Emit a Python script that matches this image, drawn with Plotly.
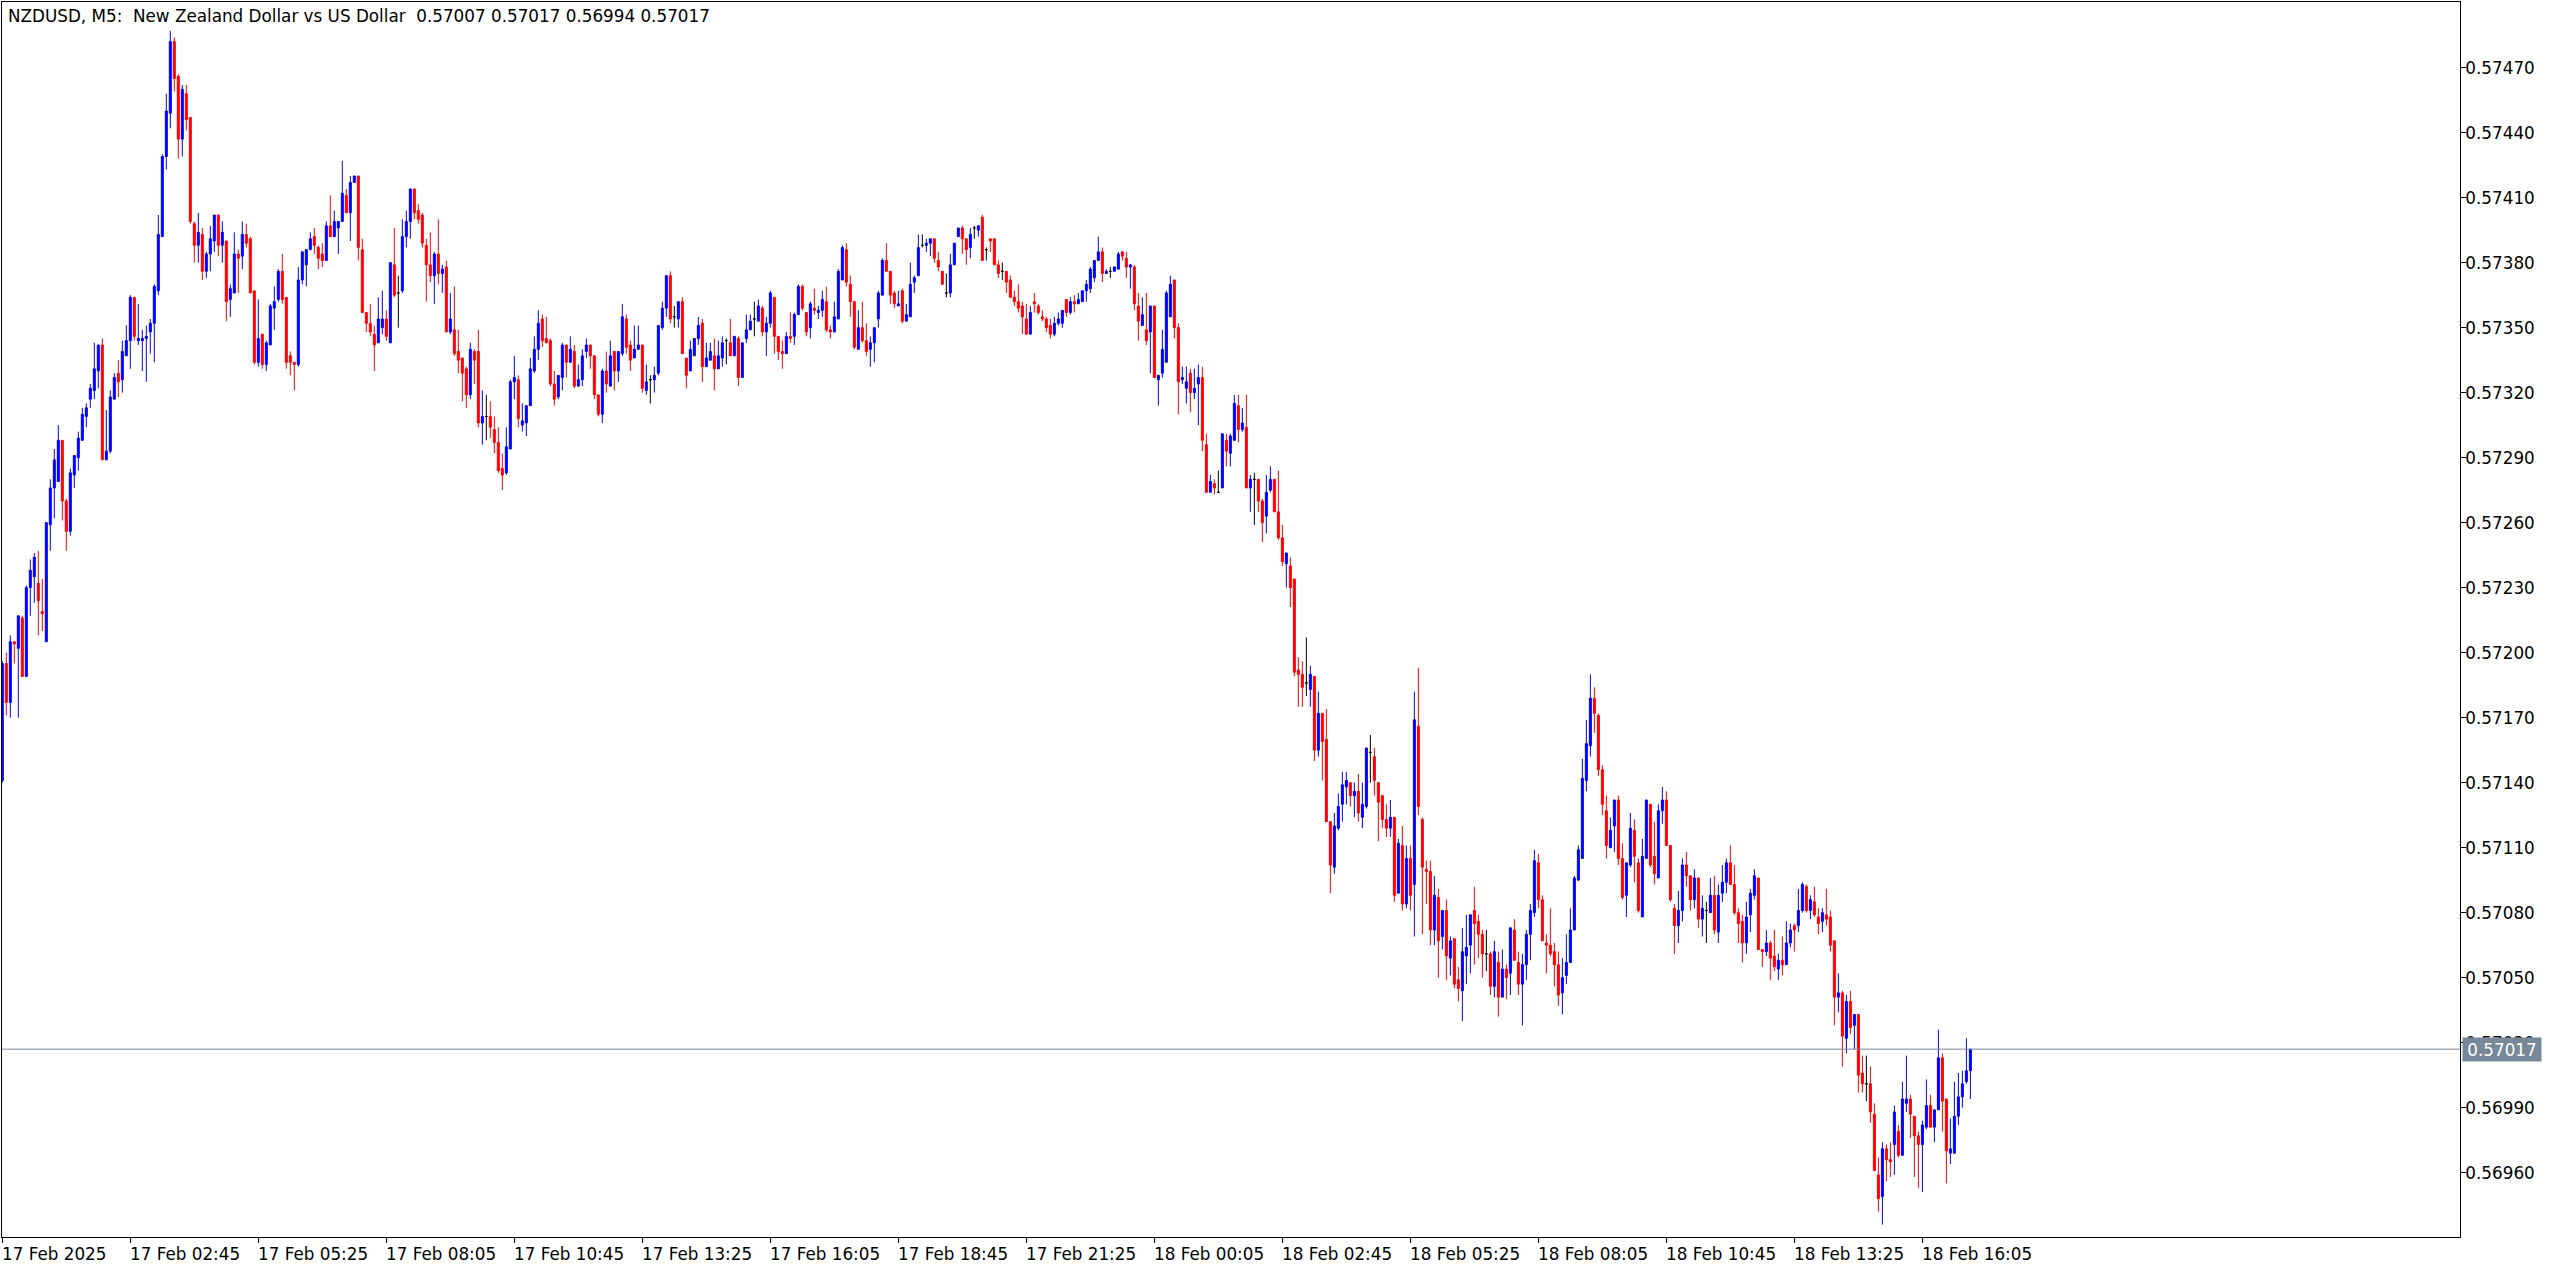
import plotly.graph_objects as go

# NZDUSD M5 candles, prices in points (1 point = 0.00001)
open_pts = [
57141,57195,57177,57205,57202,57216,57189,57230,57235,57232,
57219,57205,57259,57276,57279,57298,57270,57256,57282,57290,
57298,57309,57317,57321,57330,57342,57289,57293,57317,57329,
57326,57337,57344,57364,57344,57344,57345,57348,57352,57367,
57392,57429,57449,57482,57466,57437,57458,57447,57398,57388,
57393,57376,57384,57390,57402,57388,57390,57363,57366,57384,
57383,57393,57391,57367,57334,57347,57333,57342,57359,57363,
57376,57364,57337,57334,57333,57372,57379,57386,57392,57387,
57384,57381,57397,57392,57396,57399,57411,57403,57417,57420,
57386,57357,57352,57347,57343,57350,57354,57343,57379,57366,
57367,57392,57399,57414,57404,57402,57388,57379,57374,57384,
57375,57378,57348,57349,57339,57336,57331,57319,57339,57339,
57306,57309,57309,57303,57297,57285,57283,57294,57325,57326,
57305,57306,57314,57330,57340,57354,57345,57344,57324,57318,
57327,57342,57334,57339,57323,57326,57339,57342,57337,57319,
57310,57330,57323,57339,57330,57338,57354,57342,57336,57340,
57342,57321,57326,57326,57329,57350,57359,57374,57355,57354,
57362,57336,57330,57337,57345,57352,57332,57335,57337,57331,
57336,57344,57343,57337,57345,57327,57345,57349,57354,57353,
57359,57348,57352,57364,57346,57339,57338,57346,57346,57356,
57369,57357,57350,57359,57357,57358,57362,57349,57348,57354,
57372,57386,57370,57362,57340,57350,57344,57340,57343,57354,
57365,57381,57376,57366,57360,57367,57353,57355,57371,57374,
57388,57388,57389,57391,57381,57376,57366,57366,57379,57392,
57396,57391,57387,57396,57395,57401,57386,57391,57391,57379,
57376,57376,57372,57364,57362,57360,57354,57347,57362,57360,
57355,57354,57351,57347,57352,57352,57363,57357,57362,57361,
57362,57367,57368,57373,57381,57385,57375,57376,57376,57377,
57385,57382,57378,57378,57360,57351,57349,57348,57360,57326,
57329,57334,57355,57372,57350,57326,57322,57329,57320,57324,
57327,57296,57274,57278,57274,57276,57298,57292,57298,57314,
57303,57304,57276,57280,57280,57270,57263,57275,57280,57265,
57253,57241,57240,57234,57192,57190,57186,57183,57189,57155,
57172,57160,57122,57101,57119,57130,57138,57140,57134,57136,
57124,57129,57154,57152,57140,57134,57123,57119,57124,57089,
57111,57084,57105,57093,57166,57123,57100,57099,57072,57087,
57069,57081,57059,57068,57049,57044,57060,57065,57081,57076,
57070,57061,57061,57046,57057,57041,57054,57052,57072,57057,
57047,57056,57070,57080,57103,57086,57066,57065,57062,57056,
57043,57051,57057,57072,57095,57105,57141,57157,57179,57171,
57146,57127,57110,57120,57132,57105,57088,57102,57118,57103,
57078,57105,57130,57106,57096,57127,57132,57111,57082,57074,
57081,57102,57097,57086,57096,57077,57081,57080,57088,57071,
57089,57094,57103,57093,57080,57076,57066,57079,57088,57096,
57063,57062,57066,57060,57054,57058,57056,57066,57074,57074,
57081,57092,57081,57085,57078,57076,57079,57078,57067,57041,
57043,57022,57039,57028,57033,57006,57001,57001,56987,56959,
56949,56971,56966,56973,56979,56968,56992,56994,56986,56977,
56973,56981,56991,56981,56989,57013,56994,56969,56969,56986,
56995,57002,57007,
]
high_pts = [
57196,57200,57208,57205,57217,57217,57231,57243,57246,57247,
57234,57260,57280,57294,57305,57298,57271,57285,57291,57302,
57313,57315,57324,57343,57342,57345,57312,57321,57329,57335,
57344,57351,57365,57364,57361,57349,57351,57354,57370,57402,
57430,57458,57487,57484,57467,57462,57462,57447,57399,57403,
57396,57385,57397,57402,57402,57399,57390,57370,57394,57386,
57399,57398,57392,57367,57363,57347,57344,57361,57369,57377,
57384,57364,57339,57334,57378,57385,57386,57394,57396,57388,
57389,57399,57411,57404,57399,57427,57414,57420,57420,57420,
57391,57357,57361,57351,57364,57367,57358,57380,57396,57374,
57400,57404,57414,57414,57407,57403,57391,57394,57385,57400,
57379,57381,57366,57369,57349,57336,57332,57343,57340,57349,
57321,57319,57316,57309,57304,57292,57304,57326,57337,57328,
57315,57314,57336,57346,57358,57356,57355,57345,57330,57328,
57343,57342,57346,57342,57333,57340,57345,57342,57337,57319,
57331,57339,57344,57339,57339,57361,57356,57344,57351,57351,
57342,57333,57328,57332,57351,57362,57374,57376,57360,57362,
57364,57336,57344,57345,57355,57354,57343,57343,57345,57344,
57346,57345,57354,57346,57346,57343,57356,57356,57362,57363,
57360,57355,57367,57364,57346,57344,57348,57357,57357,57370,
57370,57357,57362,57368,57360,57367,57369,57351,57362,57377,
57388,57389,57374,57362,57358,57362,57352,57346,57350,57367,
57382,57389,57376,57367,57367,57368,57361,57380,57374,57393,
57393,57391,57391,57391,57385,57376,57375,57384,57389,57396,
57397,57391,57396,57397,57397,57402,57387,57391,57391,57381,
57380,57376,57374,57367,57370,57362,57361,57360,57366,57361,
57358,57355,57354,57355,57357,57358,57363,57364,57365,57366,
57367,57372,57378,57381,57392,57387,57377,57378,57378,57385,
57385,57385,57379,57379,57366,57364,57366,57360,57360,57328,
57349,57367,57374,57372,57352,57332,57332,57331,57331,57333,
57332,57301,57282,57280,57284,57301,57301,57301,57319,57319,
57313,57319,57282,57283,57280,57271,57282,57286,57280,57284,
57259,57246,57244,57234,57198,57196,57207,57194,57189,57182,
57172,57174,57122,57126,57135,57145,57145,57140,57140,57144,
57140,57156,57162,57156,57140,57134,57130,57132,57124,57114,
57120,57111,57111,57182,57193,57124,57104,57104,57097,57091,
57081,57086,57069,57068,57055,57073,57079,57079,57092,57079,
57072,57072,57062,57067,57062,57063,57056,57073,57077,57062,
57061,57072,57084,57109,57107,57088,57070,57082,57066,57062,
57059,57070,57082,57097,57111,57151,57169,57190,57184,57172,
57148,57134,57124,57132,57134,57112,57103,57126,57123,57105,
57114,57132,57130,57122,57130,57138,57136,57111,57084,57090,
57105,57108,57097,57100,57096,57088,57085,57096,57097,57093,
57102,57105,57111,57102,57082,57079,57085,57091,57100,57096,
57063,57072,57067,57072,57061,57069,57076,57075,57075,57091,
57094,57093,57088,57092,57082,57082,57091,57081,57067,57052,
57044,57042,57044,57033,57033,57014,57014,57009,56992,56967,
56974,56973,56974,56991,56982,57002,57014,56996,56986,56979,
56984,57003,56996,56989,57026,57015,56994,56985,57002,57006,
57007,57022,57017,
]
low_pts = [
57140,57171,57170,57195,57170,57189,57189,57217,57223,57208,
57210,57205,57247,57262,57279,57261,57247,57254,57276,57284,
57298,57304,57313,57317,57322,57289,57289,57292,57317,57318,
57320,57337,57331,57344,57342,57330,57325,57338,57334,57365,
57392,57423,57442,57459,57428,57429,57441,57398,57380,57380,
57372,57373,57376,57385,57383,57380,57353,57355,57366,57366,
57377,57387,57366,57333,57332,57331,57330,57342,57349,57362,
57361,57331,57328,57321,57332,57370,57369,57386,57384,57377,
57378,57381,57392,57392,57384,57399,57403,57390,57417,57381,
57357,57348,57346,57330,57343,57347,57344,57343,57364,57350,
57366,57387,57391,57400,57398,57387,57362,57371,57361,57370,
57366,57348,57347,57337,57329,57316,57313,57317,57324,57304,
57296,57298,57299,57292,57283,57275,57282,57294,57317,57304,
57302,57300,57314,57329,57335,57341,57343,57323,57314,57317,
57321,57327,57334,57322,57323,57323,57336,57331,57317,57309,
57306,57320,57323,57321,57325,57337,57338,57330,57336,57340,
57320,57319,57315,57320,57328,57349,57355,57352,57350,57350,
57338,57322,57330,57337,57342,57325,57332,57335,57321,57331,
57332,57333,57337,57337,57323,57327,57343,57349,57346,57353,
57346,57337,57350,57338,57335,57331,57338,57343,57342,57356,
57358,57346,57345,57356,57354,57355,57348,57345,57348,57354,
57372,57369,57355,57340,57340,57343,57337,57332,57334,57350,
57365,57376,57361,57359,57360,57352,57353,57355,57366,57374,
57387,57385,57383,57380,57376,57370,57364,57364,57379,57392,
57384,57379,57382,57391,57392,57381,57381,57385,57379,57373,
57372,57366,57364,57360,57357,57347,57347,57347,57357,57356,
57353,57348,57345,57346,57351,57350,57355,57356,57357,57361,
57362,57362,57366,57371,57381,57371,57375,57373,57376,57377,
57381,57373,57368,57358,57344,57351,57342,57329,57327,57314,
57327,57334,57355,57345,57310,57324,57315,57311,57317,57305,
57293,57274,57274,57273,57274,57276,57286,57286,57298,57297,
57302,57276,57265,57259,57265,57251,57255,57274,57265,57252,
57240,57230,57221,57189,57175,57175,57180,57175,57150,57152,
57141,57122,57089,57098,57118,57122,57130,57129,57124,57122,
57119,57128,57140,57134,57113,57119,57115,57115,57085,57089,
57081,57082,57081,57069,57125,57070,57084,57065,57065,57050,
57063,57049,57051,57045,57039,57030,57047,57052,57056,57059,
57050,57053,57042,57041,57032,57041,57040,57042,57058,57042,
57028,57049,57058,57078,57082,57067,57052,57060,57046,57037,
57033,57047,57057,57072,57095,57105,57136,57152,57163,57143,
57125,57105,57110,57108,57102,57086,57078,57101,57094,57080,
57078,57105,57101,57093,57096,57121,57111,57085,57061,57066,
57076,57092,57081,57082,57073,57069,57066,57080,57070,57066,
57085,57089,57093,57079,57066,57057,57061,57071,57086,57063,
57055,57060,57049,57053,57049,57051,57056,57064,57062,57071,
57080,57080,57077,57078,57070,57071,57074,57062,57028,57034,
57009,57015,57024,57017,56997,56997,56993,56983,56961,56942,
56936,56956,56958,56959,56967,56968,56988,56976,56958,56953,
56951,56980,56981,56974,56989,56979,56955,56964,56969,56982,
56990,57001,56994,
]
close_pts = [
57195,57177,57205,57204,57217,57189,57230,57238,57244,57224,
57218,57260,57276,57289,57298,57270,57256,57283,57291,57299,
57310,57313,57322,57331,57342,57289,57293,57318,57327,57325,
57339,57344,57364,57346,57345,57345,57346,57352,57369,57393,
57429,57450,57482,57465,57437,57460,57446,57399,57388,57394,
57376,57384,57391,57402,57388,57394,57362,57368,57384,57382,
57393,57389,57366,57334,57345,57333,57343,57360,57362,57376,
57363,57334,57334,57333,57372,57385,57386,57391,57388,57382,
57381,57397,57392,57399,57399,57412,57403,57417,57420,57387,
57357,57352,57348,57342,57354,57354,57346,57380,57365,57366,
57392,57399,57414,57403,57400,57389,57379,57374,57384,57375,
57377,57348,57354,57338,57335,57329,57319,57340,57335,57306,
57309,57309,57304,57297,57284,57282,57295,57325,57327,57308,
57307,57314,57331,57340,57352,57344,57343,57324,57317,57328,
57342,57334,57340,57323,57326,57337,57342,57337,57319,57310,
57330,57324,57337,57330,57339,57355,57341,57335,57340,57342,
57322,57325,57326,57328,57351,57359,57374,57354,57355,57362,
57338,57328,57340,57345,57351,57332,57336,57339,57331,57337,
57343,57344,57337,57346,57327,57343,57349,57353,57354,57360,
57348,57352,57366,57346,57339,57338,57346,57345,57356,57369,
57359,57348,57361,57358,57358,57363,57349,57348,57355,57376,
57387,57371,57362,57341,57350,57344,57339,57343,57350,57366,
57381,57376,57365,57361,57361,57353,57356,57370,57373,57387,
57388,57389,57391,57382,57378,57370,57366,57379,57389,57396,
57391,57386,57393,57396,57397,57381,57386,57390,57379,57375,
57376,57371,57364,57362,57359,57355,57347,57357,57361,57357,
57354,57350,57347,57352,57354,57358,57357,57362,57361,57363,
57367,57370,57377,57381,57385,57375,57376,57376,57378,57384,
57383,57378,57379,57361,57353,57356,57344,57360,57327,57328,
57340,57366,57370,57350,57325,57327,57325,57320,57322,57327,
57298,57274,57279,57276,57274,57301,57293,57300,57315,57303,
57306,57276,57280,57280,57270,57260,57274,57280,57265,57253,
57242,57246,57230,57191,57190,57184,57186,57190,57155,57172,
57159,57122,57102,57120,57129,57139,57141,57134,57136,57126,
57130,57156,57154,57141,57131,57123,57119,57124,57088,57112,
57084,57105,57088,57169,57129,57101,57099,57072,57088,57067,
57081,57060,57067,57047,57045,57062,57064,57079,57075,57070,
57061,57061,57046,57062,57041,57054,57050,57073,57058,57047,
57056,57070,57081,57104,57086,57067,57065,57061,57056,57042,
57050,57057,57072,57096,57109,57142,57158,57179,57172,57146,
57130,57111,57118,57132,57105,57087,57103,57119,57106,57081,
57106,57132,57102,57098,57127,57132,57111,57086,57074,57081,
57102,57097,57086,57096,57077,57082,57081,57088,57072,57088,
57094,57103,57093,57080,57075,57066,57078,57089,57097,57063,
57062,57066,57059,57055,57058,57056,57066,57072,57072,57081,
57093,57081,57086,57079,57075,57080,57077,57065,57041,57043,
57023,57039,57027,57033,57005,57001,57001,56988,56961,56948,
56971,56966,56965,56988,56968,56994,56994,56987,56977,56973,
56982,56991,56981,56989,57013,56993,56970,56971,56986,56995,
57001,57007,57017,
]

x_tick_bars = [0, 32, 64, 96, 128, 160, 192, 224, 256, 288, 320, 352, 384, 416, 448, 480]
x_tick_labels = ["17 Feb 2025", "17 Feb 02:45", "17 Feb 05:25", "17 Feb 08:05",
                 "17 Feb 10:45", "17 Feb 13:25", "17 Feb 16:05", "17 Feb 18:45",
                 "17 Feb 21:25", "18 Feb 00:05", "18 Feb 02:45", "18 Feb 05:25",
                 "18 Feb 08:05", "18 Feb 10:45", "18 Feb 13:25", "18 Feb 16:05"]
y_tick_values = [0.56960, 0.56990, 0.57020, 0.57050, 0.57080, 0.57110, 0.57140,
                 0.57170, 0.57200, 0.57230, 0.57260, 0.57290, 0.57320, 0.57350,
                 0.57380, 0.57410, 0.57440, 0.57470]
last_price = 0.57017
title_text = "NZDUSD, M5:\u00a0\u00a0New Zealand Dollar vs US Dollar\u00a0\u00a00.57007 0.57017 0.56994 0.57017"

PT = 1e-5
n = len(close_pts)
idx = list(range(n))
main = [i for i in idx if open_pts[i] != close_pts[i]]
doji = [i for i in idx if open_pts[i] == close_pts[i]]

def sel(arr, ids):
    return [round(arr[i] * PT, 5) for i in ids]

FONT = "DejaVu Sans"
FS = 16.8
fig = go.Figure()
fig.add_trace(go.Candlestick(
    x=main, open=sel(open_pts, main), high=sel(high_pts, main),
    low=sel(low_pts, main), close=sel(close_pts, main),
    increasing=dict(line=dict(color="#0000ff", width=1), fillcolor="#0000ff"),
    decreasing=dict(line=dict(color="#ff0000", width=1), fillcolor="#ff0000"),
    whiskerwidth=0, showlegend=False, hoverinfo="skip",
))
fig.add_trace(go.Candlestick(
    x=doji, open=sel(open_pts, doji), high=sel(high_pts, doji),
    low=sel(low_pts, doji), close=sel(close_pts, doji),
    increasing=dict(line=dict(color="#000000", width=1), fillcolor="#000000"),
    decreasing=dict(line=dict(color="#000000", width=1), fillcolor="#000000"),
    whiskerwidth=0, showlegend=False, hoverinfo="skip",
))

annotations = []
for b, lab in zip(x_tick_bars, x_tick_labels):
    annotations.append(dict(x=b, xref="x", y=0, yref="paper", xanchor="left", yanchor="top",
                            yshift=-5, xshift=-2, text=lab, showarrow=False,
                            font=dict(family=FONT, size=FS, color="black")))
annotations.append(dict(x=0, xref="paper", y=1, yref="paper", xanchor="left", yanchor="top",
                        xshift=4, yshift=-2, text=title_text, showarrow=False,
                        font=dict(family=FONT, size=FS, color="black")))
annotations.append(dict(x=1, xref="paper", y=last_price, yref="y", xanchor="left", yanchor="middle",
                        xshift=2, text="%.5f" % last_price, showarrow=False, bgcolor="#778899",
                        borderpad=2, width=74, height=19,
                        font=dict(family=FONT, size=FS, color="white")))

fig.update_layout(
    width=2556, height=1270,
    margin=dict(l=2, r=96, t=2, b=33),
    paper_bgcolor="white", plot_bgcolor="white",
    showlegend=False, boxgap=0.5, boxgroupgap=0,
    font=dict(family=FONT, size=FS, color="black"),
    annotations=annotations,
    shapes=[dict(type="line", xref="paper", x0=0, x1=1, yref="y", y0=last_price, y1=last_price,
                 line=dict(color="#778899", width=1))],
    xaxis=dict(range=[-0.075, 614.4], showgrid=False, zeroline=False, showline=True,
               linecolor="black", linewidth=1, mirror=True, ticks="outside", ticklen=5,
               tickcolor="black", tickvals=x_tick_bars, showticklabels=False,
               rangeslider=dict(visible=False), fixedrange=True),
    yaxis=dict(side="right", range=[0.569303, 0.575003], showgrid=False, zeroline=False,
               showline=True, linecolor="black", linewidth=1, mirror=True, ticks="outside",
               ticklen=5, tickcolor="black", tickvals=y_tick_values, tickformat=".5f",
               ticklabelstandoff=-4,
               tickfont=dict(family=FONT, size=FS, color="black"), fixedrange=True),
)

fig.write_html("out.html", config={"displayModeBar": False},
               post_script="document.body.style.margin='0';")
